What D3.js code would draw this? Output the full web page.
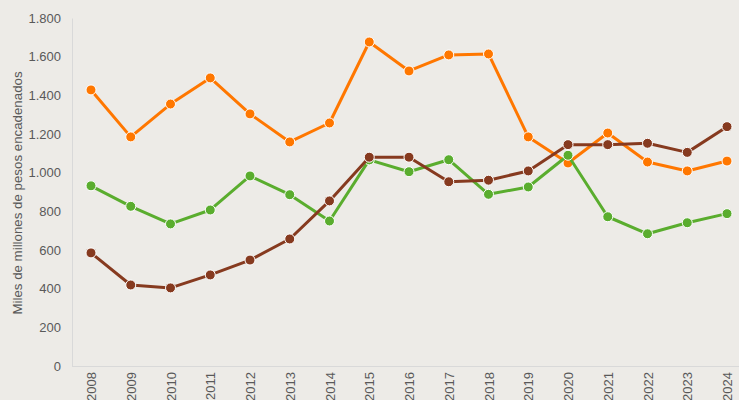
<!DOCTYPE html>
<html>
  <head>
    <title>Miles de millones de pesos encadenados</title>
    <script src="https://cdn.jsdelivr.net/npm/d3@7"></script>
    <style>
      body { margin: 0; background: #edebe7; }
      svg { display: block; font-family: "Liberation Sans", Arial, sans-serif; }
      .tick text { fill: #595959; font-size: 13px; }
    </style>
  </head>
  <body>
    <svg width="739" height="400"></svg>
    <script>
      // data
      var years = ["2008", "2009", "2010", "2011", "2012", "2013", "2014", "2015", "2016",
                   "2017", "2018", "2019", "2020", "2021", "2022", "2023", "2024"];
      var orange = [1428, 1185, 1355, 1490, 1304, 1159, 1257, 1676, 1526, 1609, 1614, 1185, 1050, 1205, 1055, 1009, 1060];
      var green = [932, 826, 735, 807, 983, 886, 750, 1066, 1005, 1067, 888, 926, 1090, 772, 684, 741, 788];
      var brown = [585, 419, 404, 471, 548, 657, 854, 1080, 1080, 953, 961, 1009, 1145, 1145, 1152, 1105, 1238];
      var yTicks = [0, 200, 400, 600, 800, 1000, 1200, 1400, 1600, 1800];

      var series = [
        { name: "naranja", values: orange, color: "#ff7700" },
        { name: "verde", values: green, color: "#5aad2e" },
        { name: "cafe", values: brown, color: "#863a1f" }
      ];

      var svg = d3.select("svg"),
        plotLeft = 72, plotTop = 18, plotBottom = 366;

      var x = d3.scalePoint().domain(years).range([91, 727]);
      var y = d3.scaleLinear().domain([0, 1800]).range([plotBottom, plotTop]);

      var fmt = d3.formatLocale({ decimal: ",", thousands: ".", grouping: [3], currency: ["$", ""] }).format(",d");

      // y axis
      var gy = svg.append("g")
        .attr("transform", "translate(" + plotLeft + ",0)")
        .call(d3.axisLeft(y).tickValues(yTicks).tickFormat(fmt).tickSize(0).tickPadding(11));
      gy.select(".domain").attr("stroke", "#d9d9d9");

      // x axis
      var gx = svg.append("g")
        .attr("transform", "translate(0," + plotBottom + ")")
        .call(d3.axisBottom(x).tickSize(0));
      gx.select(".domain").attr("stroke", "#d9d9d9").attr("d", "M" + plotLeft + ",0.5H739");
      gx.selectAll(".tick text")
        .attr("transform", "rotate(-90)")
        .attr("text-anchor", "end")
        .attr("x", -6)
        .attr("y", 0)
        .attr("dy", "0.35em");

      // axis title
      svg.append("text")
        .attr("transform", "translate(22,193) rotate(-90)")
        .attr("text-anchor", "middle")
        .attr("fill", "#595959")
        .style("font-size", "13.3px")
        .text("Miles de millones de pesos encadenados");

      var line = d3.line()
        .x(function(d, i) { return x(years[i]); })
        .y(function(d) { return y(d); });

      series.forEach(function(s) {
        svg.append("path")
          .datum(s.values)
          .attr("fill", "none")
          .attr("stroke", s.color)
          .attr("stroke-width", 3)
          .attr("stroke-linejoin", "round")
          .attr("d", line);

        svg.selectAll(".dot-" + s.name)
          .data(s.values)
          .enter().append("circle")
          .attr("class", "dot-" + s.name)
          .attr("cx", function(d, i) { return x(years[i]); })
          .attr("cy", function(d) { return y(d); })
          .attr("r", 5)
          .attr("fill", s.color)
          .attr("stroke", "#fff")
          .attr("stroke-width", 1);
      });
    </script>
  </body>
</html>
